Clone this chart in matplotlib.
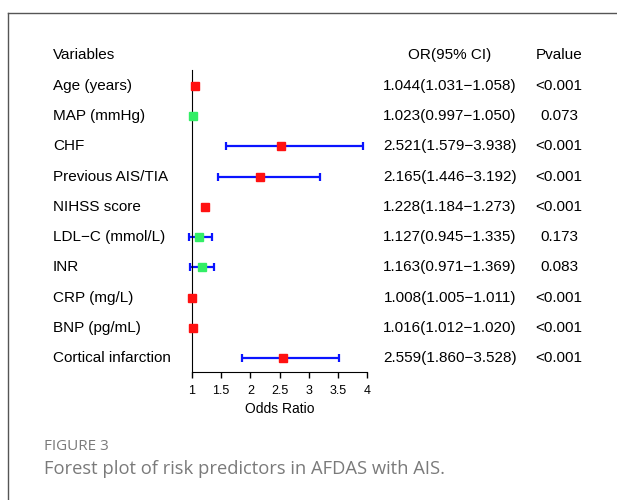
import matplotlib.pyplot as plt
import matplotlib.transforms as mtransforms
from matplotlib.lines import Line2D

variables = ['Age (years)', 'MAP (mmHg)', 'CHF', 'Previous AIS/TIA', 'NIHSS score',
             'LDL\u2212C (mmol/L)', 'INR', 'CRP (mg/L)', 'BNP (pg/mL)', 'Cortical infarction']
odds = [1.044, 1.023, 2.521, 2.165, 1.228, 1.127, 1.163, 1.008, 1.016, 2.559]
ci_low = [1.031, 0.997, 1.579, 1.446, 1.184, 0.945, 0.971, 1.005, 1.012, 1.860]
ci_high = [1.058, 1.050, 3.938, 3.192, 1.273, 1.335, 1.369, 1.011, 1.020, 3.528]
pvalues = ['<0.001', '0.073', '<0.001', '<0.001', '<0.001', '0.173', '0.083', '<0.001', '<0.001', '<0.001']
x_ticks = [1, 1.5, 2, 2.5, 3, 3.5, 4]
x_ticklabels = ['1', '1.5', '2', '2.5', '3', '3.5', '4']

RED = '#ff1111'
GREEN = '#33ee66'
BLUE = '#0a14ff'

plt.rcParams['font.family'] = ['Liberation Sans', 'DejaVu Sans']

W, H = 617, 500
fig = plt.figure(figsize=(W / 100, H / 100), dpi=100)

# card border (left and top edges)
fig.add_artist(Line2D([8 / W, 8 / W], [0, 1 - 13 / H], color='#555555', lw=1.0))
fig.add_artist(Line2D([8 / W, 1], [1 - 13 / H, 1 - 13 / H], color='#555555', lw=1.0))

ax = fig.add_axes([192 / W, 1 - 372 / H, 175 / W, 302 / H])
rows = list(range(len(variables)))

for i in rows:
    color = RED if pvalues[i].startswith('<') else GREEN
    ax.errorbar(odds[i], i, xerr=[[odds[i] - ci_low[i]], [ci_high[i] - odds[i]]],
                fmt='none', ecolor=BLUE, elinewidth=1.6, capsize=2.6, capthick=1.6,
                clip_on=False, zorder=2)
    ax.plot(odds[i], i, marker='s', ms=5.6, color=color, mec=color, ls='none',
            clip_on=False, zorder=3)

ax.set_xlim(1, 4)
ax.set_ylim(9.45, -0.52)
ax.set_xticks(x_ticks)
ax.set_xticklabels(x_ticklabels, fontsize=9)
ax.set_yticks([])
ax.tick_params(axis='x', length=4, width=1, pad=5)
ax.spines['top'].set_visible(False)
ax.spines['right'].set_visible(False)
ax.set_xlabel('Odds Ratio', fontsize=10, labelpad=4)

trans = mtransforms.blended_transform_factory(fig.transFigure, ax.transData)
ax.text(53 / W, -1, 'Variables', transform=trans, fontsize=11, ha='left', va='center')
ax.text(450 / W, -1, 'OR(95% CI)', transform=trans, fontsize=11, ha='center', va='center')
ax.text(559 / W, -1, 'Pvalue', transform=trans, fontsize=11, ha='center', va='center')
for i in rows:
    ax.text(53 / W, i, variables[i], transform=trans, fontsize=11, ha='left', va='center')
    or_text = '%.3f(%.3f\u2212%.3f)' % (odds[i], ci_low[i], ci_high[i])
    ax.text(450 / W, i, or_text, transform=trans, fontsize=11, ha='center', va='center')
    ax.text(559 / W, i, pvalues[i], transform=trans, fontsize=11, ha='center', va='center')

fig.text(44 / W, 1 - 446 / H, 'FIGURE 3', fontsize=11, color='#7a7a7a',
         family='Open Sans', ha='left', va='center')
fig.text(44 / W, 1 - 469 / H, 'Forest plot of risk predictors in AFDAS with AIS.',
         fontsize=13.2, color='#7a7a7a', family='Open Sans', ha='left', va='center')

fig.savefig('out.png', dpi=100)
